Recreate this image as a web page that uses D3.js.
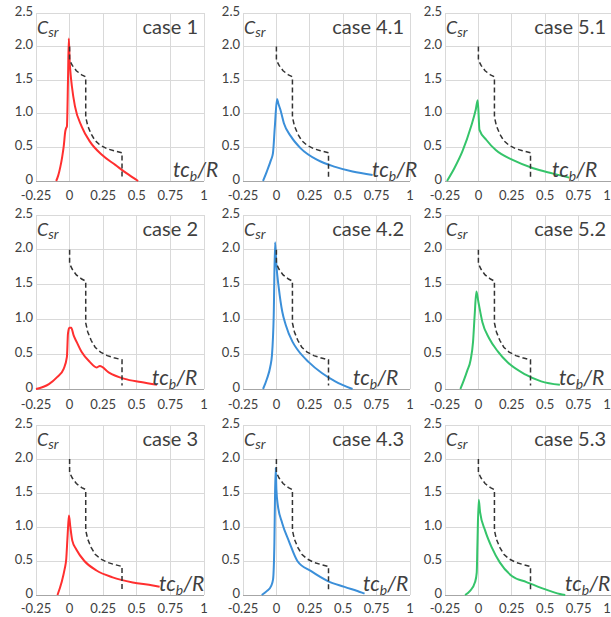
<!DOCTYPE html>
<html>
<head>
<meta charset="utf-8">
<script src="https://cdn.jsdelivr.net/npm/d3@7/dist/d3.min.js"></script>
<style>
  body { margin: 0; background: #fff; }
  svg { display: block; }
  text { font-family: Lato, "Open Sans", sans-serif; fill: #404040; }
</style>
</head>
<body>
<svg id="chart" width="611" height="617"></svg>
<script>
// Panel titles, row by row
const caseNames = ["case 1", "case 4.1", "case 5.1", "case 2", "case 4.2", "case 5.2", "case 3", "case 4.3", "case 5.3"];

// Axis ticks
const xTicks = [-0.25, 0, 0.25, 0.5, 0.75, 1];
const xTickLabels = ["-0.25", "0", "0.25", "0.5", "0.75", "1"];
const yTicks = [0, 0.5, 1.0, 1.5, 2.0, 2.5];
const yTickLabels = ["0", "0.5", "1.0", "1.5", "2.0", "2.5"];

// Reference limit curve (dashed), common to every panel: [tc_b/R, C_sr]
const limitCurve = [[0, 2.0], [0, 1.8], [0.02, 1.72], [0.05, 1.64], [0.09, 1.58], [0.12, 1.55],
  [0.12, 0.95], [0.135, 0.82], [0.16, 0.70], [0.19, 0.60], [0.23, 0.53], [0.28, 0.48],
  [0.33, 0.45], [0.39, 0.42], [0.39, 0.05]];

// C_sr time histories: [tc_b/R, C_sr]
const case1 = [[-0.10, 0], [-0.085, 0.08], [-0.069, 0.21], [-0.055, 0.36], [-0.044, 0.51], [-0.032, 0.74],
  [-0.025, 0.79], [-0.02, 0.81], [-0.012, 1.5], [-0.006, 2.12], [0, 1.8], [0.008, 1.58], [0.017, 1.41],
  [0.04, 1.11], [0.09, 0.81], [0.15, 0.59], [0.24, 0.39], [0.34, 0.24], [0.42, 0.12], [0.51, 0]];
const case41 = [[-0.10, 0], [-0.072, 0.14], [-0.041, 0.31], [-0.026, 0.41], [-0.012, 0.8], [0.005, 1.22],
  [0.015, 1.15], [0.03, 1.06], [0.056, 0.86], [0.11, 0.66], [0.18, 0.49], [0.31, 0.31], [0.44, 0.21],
  [0.57, 0.14], [0.72, 0.09]];
const case51 = [[-0.235, 0], [-0.18, 0.19], [-0.12, 0.44], [-0.055, 0.81], [-0.02, 1.06], [-0.005, 1.20],
  [0.008, 0.76], [0.06, 0.61], [0.13, 0.46], [0.26, 0.31], [0.41, 0.19], [0.56, 0.11], [0.68, 0.05]];
const case2 = [[-0.25, 0], [-0.154, 0.07], [-0.093, 0.17], [-0.044, 0.29], [-0.02, 0.46], [-0.012, 0.80],
  [-0.002, 0.88], [0.012, 0.88], [0.03, 0.77], [0.054, 0.67], [0.09, 0.53], [0.15, 0.39], [0.20, 0.31],
  [0.225, 0.33], [0.29, 0.24], [0.41, 0.145], [0.53, 0.10], [0.65, 0.06]];
const case42 = [[-0.10, 0], [-0.07, 0.15], [-0.046, 0.32], [-0.033, 0.49], [-0.02, 1.06], [-0.01, 2.11],
  [0, 1.78], [0.018, 1.45], [0.044, 1.11], [0.07, 0.92], [0.12, 0.68], [0.16, 0.56], [0.24, 0.39],
  [0.34, 0.23], [0.44, 0.11], [0.57, 0]];
const case52 = [[-0.135, 0], [-0.11, 0.12], [-0.084, 0.26], [-0.058, 0.42], [-0.04, 0.68], [-0.028, 1.06],
  [-0.015, 1.40], [0, 1.25], [0.03, 0.96], [0.08, 0.73], [0.145, 0.54], [0.22, 0.38], [0.35, 0.21],
  [0.47, 0.11], [0.61, 0.06]];
const case3 = [[-0.09, 0], [-0.06, 0.185], [-0.037, 0.38], [-0.025, 0.53], [-0.015, 0.87], [-0.005, 1.17],
  [0.005, 1.01], [0.02, 0.80], [0.05, 0.67], [0.11, 0.50], [0.20, 0.36], [0.32, 0.26], [0.47, 0.185],
  [0.62, 0.14], [0.67, 0.12]];
const case43 = [[-0.11, 0], [-0.07, 0.06], [-0.04, 0.13], [-0.025, 0.23], [-0.015, 0.77], [-0.01, 1.50],
  [-0.005, 1.87], [0, 1.55], [0.01, 1.33], [0.043, 1.06], [0.094, 0.79], [0.157, 0.50], [0.26, 0.35],
  [0.385, 0.205], [0.51, 0.12], [0.64, 0.035], [0.66, 0.02]];
const case53 = [[-0.10, 0], [-0.0625, 0.06], [-0.025, 0.19], [-0.0125, 0.33], [-0.0075, 0.73], [0.0025, 1.40],
  [0.0125, 1.22], [0.05, 0.95], [0.10, 0.70], [0.16, 0.48], [0.25, 0.28], [0.36, 0.19], [0.49, 0.09],
  [0.61, 0.015], [0.65, 0]];

const caseSeries = [case1, case41, case51, case2, case42, case52, case3, case43, case53];

// Layout of the 3x3 grid
const W = 611;
const colLeft = [36, 243, 445];
const colRight = [204, 410, 612];
const rowTop = [13, 215, 425];
const rowBottom = [181, 389, 595];
const xTickGap = [14, 15, 13.5];
const xLabelOffset = [137, 129, 107, 116, 110, 114, 123, 120, 120];
const colColors = ["#ff2f2f", "#3b8fd9", "#35c46a"];

const svg = d3.select("#chart");

caseNames.forEach((name, i) => {
  const r = Math.floor(i / 3), c = i % 3;
  const left = colLeft[c], right = colRight[c], top = rowTop[r], bottom = rowBottom[r];

  const x = d3.scaleLinear().domain([-0.25, 1]).range([left, right]);
  const y = d3.scaleLinear().domain([0, 2.5]).range([bottom, top]);

  const g = svg.append("g");

  // grid
  g.selectAll("line.vx").data(xTicks).join("line")
    .attr("x1", d => x(d)).attr("x2", d => x(d))
    .attr("y1", top).attr("y2", bottom)
    .attr("stroke", "#d9d9d9").attr("stroke-width", 1).attr("shape-rendering", "crispEdges");
  g.selectAll("line.hy").data(yTicks.filter(d => d > 0)).join("line")
    .attr("x1", left).attr("x2", right)
    .attr("y1", d => y(d)).attr("y2", d => y(d))
    .attr("stroke", "#d9d9d9").attr("stroke-width", 1).attr("shape-rendering", "crispEdges");
  // horizontal axis at zero
  g.append("line")
    .attr("x1", left).attr("x2", right).attr("y1", y(0)).attr("y2", y(0))
    .attr("stroke", "#a6a6a6").attr("stroke-width", 1).attr("shape-rendering", "crispEdges");

  // tick labels
  g.selectAll("text.yt").data(yTicks).join("text")
    .attr("x", left - 3).attr("y", d => y(d) - 2)
    .attr("dy", "0.35em").attr("text-anchor", "end")
    .attr("font-size", 13).text((d, k) => yTickLabels[k]);
  g.selectAll("text.xt").data(xTicks).join("text")
    .attr("x", d => Math.min(x(d), W - 4)).attr("y", bottom + xTickGap[r])
    .attr("dy", "0.35em").attr("text-anchor", "middle")
    .attr("font-size", 13).text((d, k) => xTickLabels[k]);

  // solid curve
  const curve = d3.line().x(d => x(d[0])).y(d => y(d[1])).curve(d3.curveMonotoneX);
  g.append("path").datum(caseSeries[i])
    .attr("d", curve).attr("fill", "none")
    .attr("stroke", colColors[c]).attr("stroke-width", 2)
    .attr("stroke-linejoin", "round");

  // dashed limit
  const poly = d3.line().x(d => x(d[0])).y(d => y(d[1]));
  g.append("path").datum(limitCurve)
    .attr("d", poly).attr("fill", "none")
    .attr("stroke", "#333").attr("stroke-width", 1.5)
    .attr("stroke-dasharray", "5,3");

  // panel title
  g.append("text")
    .attr("x", right - 6).attr("y", top + 21)
    .attr("text-anchor", "end").attr("font-size", 20).attr("fill", "#262626")
    .text(name);

  // y label C_sr
  const yl = g.append("text")
    .attr("x", left + 1).attr("y", top + 21)
    .attr("font-style", "italic").attr("fill", "#262626");
  yl.append("tspan").attr("font-size", 18).text("C");
  yl.append("tspan").attr("font-size", 14).attr("dy", 3).text("sr");

  // x label tc_b/R
  const xl = g.append("text")
    .attr("x", left + xLabelOffset[i]).attr("y", bottom - 4)
    .attr("font-style", "italic").attr("fill", "#262626");
  xl.append("tspan").attr("font-size", 21).text("tc");
  xl.append("tspan").attr("font-size", 14).attr("dy", 4).text("b");
  xl.append("tspan").attr("font-size", 21).attr("dy", -4).text("/R");
});
</script>
</body>
</html>
